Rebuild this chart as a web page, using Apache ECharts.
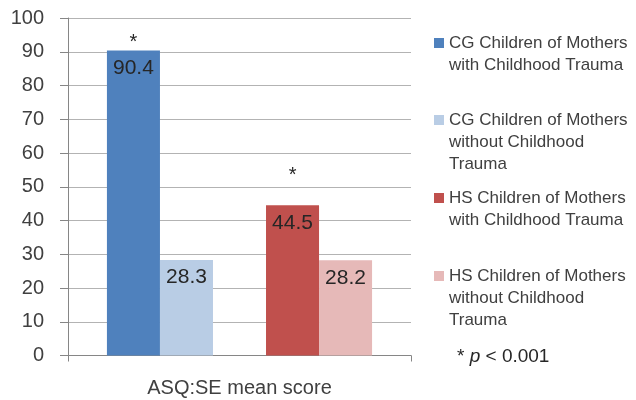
<!DOCTYPE html>
<html><head><meta charset="utf-8">
<script src="https://cdn.jsdelivr.net/npm/echarts@6/dist/echarts.min.js"></script>
<style>html,body{margin:0;padding:0;background:#fff}#c{width:636px;height:400px}</style>
</head><body><div id="c"></div>
<script>
const categories = ['ASQ:SE mean score'];
const seriesNames = [
  'CG Children of Mothers\nwith Childhood Trauma',
  'CG Children of Mothers\nwithout Childhood\nTrauma',
  'HS Children of Mothers\nwith Childhood Trauma',
  'HS Children of Mothers\nwithout Childhood\nTrauma'
];
const cgWith = [90.4];
const cgWithout = [28.3];
const hsWith = [44.5];
const hsWithout = [28.2];
const starLevels = [92.6, null, 53.2, null];
const colors = ['#4F81BD', '#B9CDE5', '#C0504D', '#E6B9B8'];
const yMin = 0, yMax = 100, yStep = 10;
const FONT = 'Liberation Sans';

const values = [cgWith, cgWithout, hsWith, hsWithout];
const legendIconY = [43, 120, 198, 276];

function barSeries(i) {
  const s = {
    type: 'bar', name: seriesNames[i], data: values[i],
    itemStyle: { color: colors[i] },
    barGap: '0%', barCategoryGap: '22.7%',
    label: { show: true, position: 'insideTop', distance: 7, fontSize: 21,
      fontFamily: FONT, color: '#262626', formatter: p => p.value.toFixed(1) }
  };
  if (starLevels[i] != null) {
    s.markPoint = {
      symbol: 'rect', symbolSize: 1, itemStyle: { color: 'rgba(0,0,0,0)' },
      label: { show: true, position: 'inside', formatter: '*', fontSize: 20, fontFamily: FONT, color: '#262626' },
      data: [{ coord: [0, starLevels[i]] }]
    };
  }
  return s;
}

const series = [barSeries(0), barSeries(1),
  { type: 'bar', name: '_gap', data: ['-'], barGap: '0%', barCategoryGap: '22.7%', silent: true },
  barSeries(2), barSeries(3)];

const legends = seriesNames.map((n, i) => {
  const N = n.split('\n').length;
  const H = (2 * N - 1) * 22;
  return {
    data: [n], orient: 'vertical', left: 434, top: legendIconY[i] - H / 2, padding: 0,
    icon: 'rect', itemWidth: 10, itemHeight: 10, selectedMode: false,
    formatter: name => '\n'.repeat(N - 1) + name,
    textStyle: { fontSize: 17, fontFamily: FONT, color: '#404040', lineHeight: 22 }
  };
});

const chart = echarts.init(document.getElementById('c'));
chart.setOption({
  animation: false,
  backgroundColor: '#fff',
  grid: { left: 68, right: 225, top: 18, bottom: 44.5, containLabel: false },
  xAxis: {
    type: 'category', data: categories,
    axisLine: { show: true, lineStyle: { color: '#868686', width: 1 } },
    axisTick: { show: true, length: 6, lineStyle: { color: '#868686' } },
    axisLabel: { fontSize: 20, fontFamily: FONT, color: '#404040', margin: 23 }
  },
  yAxis: {
    type: 'value', min: yMin, max: yMax, interval: yStep,
    axisLine: { show: true, lineStyle: { color: '#868686', width: 1 } },
    axisTick: { show: true, length: 8, lineStyle: { color: '#868686' } },
    axisLabel: { fontSize: 20, fontFamily: FONT, color: '#404040', margin: 24 },
    splitLine: { lineStyle: { color: '#B3B3B3', width: 1 } }
  },
  legend: legends,
  series: series,
  graphic: [{
    type: 'text', left: 457, top: 347,
    style: { text: '* {i|p} < 0.001', fontSize: 19, fontFamily: FONT, fill: '#262626',
      rich: { i: { fontStyle: 'italic', fontSize: 19, fontFamily: FONT, fill: '#262626' } } }
  }]
});
</script></body></html>
